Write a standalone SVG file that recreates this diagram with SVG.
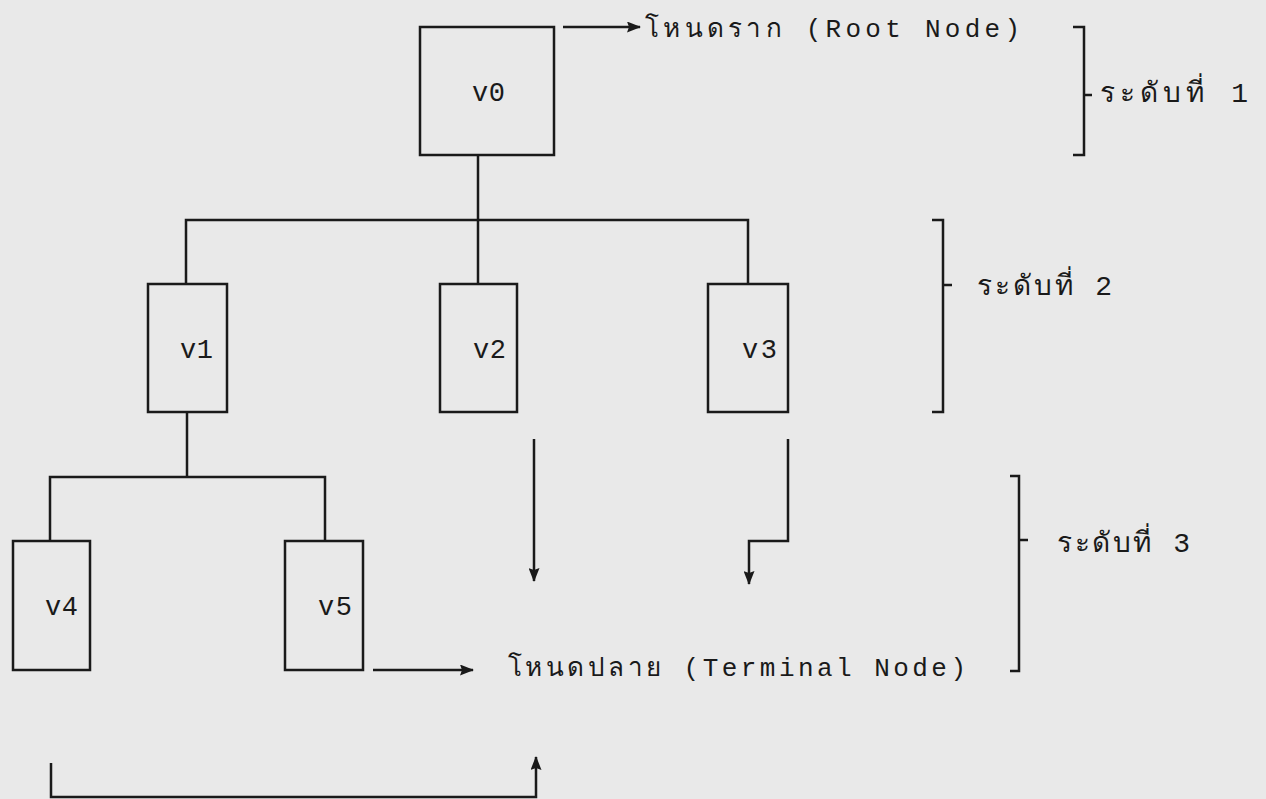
<svg xmlns="http://www.w3.org/2000/svg" width="1266" height="799" viewBox="0 0 1266 799">
  <style>
    .box { fill: none; stroke: #1a1a1a; stroke-width: 2.5; }
    .ln { fill: none; stroke: #1a1a1a; stroke-width: 2.5; }
    .arr { fill: none; stroke: #1a1a1a; stroke-width: 2.5; marker-end: url(#ah); }
    .lbl { font-family: "Liberation Mono", "Noto Sans", "DejaVu Sans Mono", monospace; font-size: 27px; fill: #1a1a1a; }
    .txt { font-family: "Liberation Mono", "Noto Sans", "DejaVu Sans", monospace; font-size: 26px; fill: #1a1a1a; }
    .lvl { font-family: "Liberation Mono", "Noto Sans", "DejaVu Sans", monospace; font-size: 28px; fill: #1a1a1a; }
  </style>
  <defs>
    <marker id="ah" viewBox="0 0 14 11" refX="13" refY="5.5" markerUnits="userSpaceOnUse" markerWidth="14" markerHeight="11" orient="auto">
      <path d="M0,0 L14,5.5 L0,11 L2,5.5 z" fill="#1a1a1a"/>
    </marker>
  </defs>
  <rect x="0" y="0" width="1266" height="799" fill="#e9e9e9"/>

  <g id="connectors">
    <path class="ln" d="M478,155 L478,284"/>
    <path class="ln" d="M186,284 L186,220 L748,220 L748,284"/>
    <path class="ln" d="M187,412 L187,477"/>
    <path class="ln" d="M50,541 L50,477 L325,477 L325,541"/>
    <path class="arr" d="M563,27 L640,27"/>
    <path class="arr" d="M373,670 L473,670"/>
    <path class="arr" d="M534,439 L534,581"/>
    <path class="arr" d="M788,439 L788,541 L749,541 L749,584"/>
    <path class="arr" d="M51,763 L51,797 L536,797 L536,757"/>
  </g>

  <g id="v0">
    <rect class="box" x="420" y="27" width="134" height="128"/>
    <text class="lbl" x="472" y="101" textLength="33" lengthAdjust="spacing">v0</text>
  </g>
  <g id="v1">
    <rect class="box" x="148" y="284" width="79" height="128"/>
    <text class="lbl" x="180" y="358" textLength="33" lengthAdjust="spacing">v1</text>
  </g>
  <g id="v2">
    <rect class="box" x="440" y="284" width="77" height="128"/>
    <text class="lbl" x="473" y="358" textLength="33" lengthAdjust="spacing">v2</text>
  </g>
  <g id="v3">
    <rect class="box" x="708" y="284" width="80" height="128"/>
    <text class="lbl" x="742" y="358" textLength="35" lengthAdjust="spacing">v3</text>
  </g>
  <g id="v4">
    <rect class="box" x="13" y="541" width="77" height="129"/>
    <text class="lbl" x="45" y="615" textLength="33" lengthAdjust="spacing">v4</text>
  </g>
  <g id="v5">
    <rect class="box" x="285" y="541" width="78" height="129"/>
    <text class="lbl" x="318" y="615" textLength="34" lengthAdjust="spacing">v5</text>
  </g>

  <g id="root-label">
    <text class="txt" x="645" y="37" textLength="375" lengthAdjust="spacing">โหนดราก (Root Node)</text>
  </g>
  <g id="terminal-label">
    <text class="txt" x="508" y="676" textLength="458" lengthAdjust="spacing">โหนดปลาย (Terminal Node)</text>
  </g>

  <g id="level1">
    <path class="ln" d="M1073,27 L1084,27 L1084,155 L1073,155 M1084,95 L1092,95"/>
    <text class="lvl" x="1100" y="102" textLength="148" lengthAdjust="spacing">ระดับที่ 1</text>
  </g>
  <g id="level2">
    <path class="ln" d="M932,220 L943,220 L943,412 L932,412 M943,285 L952,285"/>
    <text class="lvl" x="977" y="295" textLength="135" lengthAdjust="spacing">ระดับที่ 2</text>
  </g>
  <g id="level3">
    <path class="ln" d="M1010,476 L1019,476 L1019,671 L1010,671 M1019,540 L1028,540"/>
    <text class="lvl" x="1057" y="552" textLength="133" lengthAdjust="spacing">ระดับที่ 3</text>
  </g>
</svg>
